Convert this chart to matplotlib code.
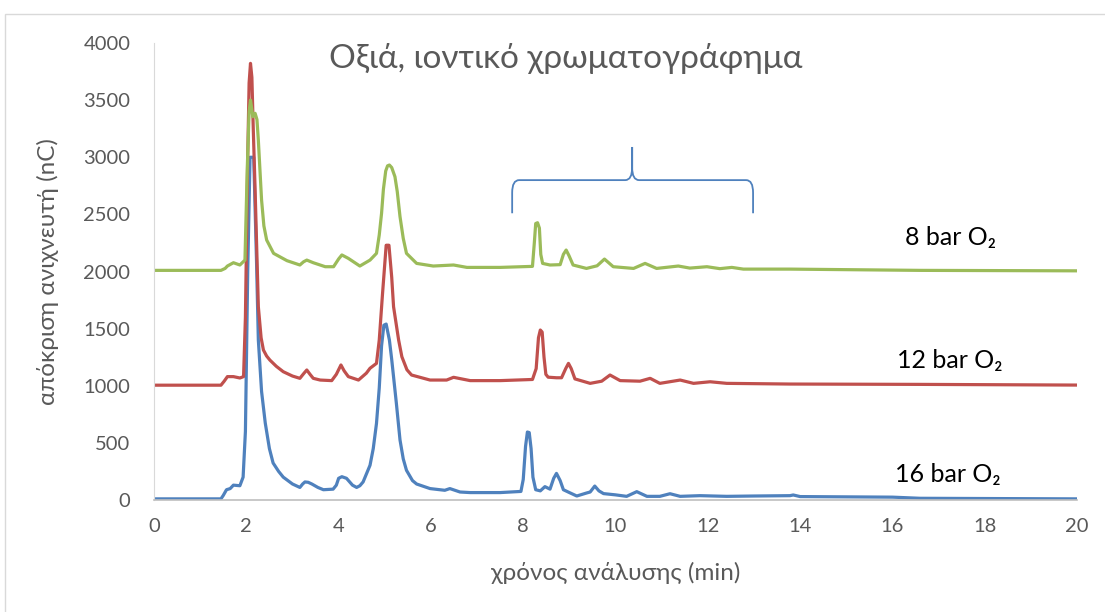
import matplotlib.pyplot as plt
from matplotlib.path import Path
from matplotlib.patches import PathPatch, Rectangle

plt.rcParams["font.family"] = ["Lato", "Noto Sans", "DejaVu Sans"]

GREY = "#595959"
BLUE = "#4F81BD"
RED = "#C0504D"
GREEN = "#9BBB59"

# ion chromatograms, time (min) / detector response (nC)
t_16 = [0, 1.45, 1.5, 1.57, 1.65, 1.72, 1.86, 1.93, 1.98, 2.03, 2.08, 2.16,
        2.22, 2.26, 2.33, 2.41, 2.5, 2.58, 2.7, 2.8, 3.0, 3.16, 3.22, 3.27,
        3.34, 3.42, 3.55, 3.67, 3.88, 3.95, 4.0, 4.07, 4.17, 4.3, 4.39, 4.46,
        4.53, 4.68, 4.75, 4.82, 4.88, 4.93, 4.98, 5.03, 5.1, 5.15, 5.25, 5.33,
        5.4, 5.47, 5.6, 5.69, 5.98, 6.3, 6.41, 6.63, 6.85, 7.5, 7.95, 8.0,
        8.05, 8.09, 8.13, 8.17, 8.21, 8.27, 8.37, 8.47, 8.58, 8.66, 8.72, 8.8,
        8.87, 9.0, 9.16, 9.37, 9.45, 9.55, 9.64, 9.74, 10.0, 10.24, 10.46,
        10.68, 10.96, 11.18, 11.4, 11.83, 12.41, 13.0, 13.78, 13.85, 14.0,
        16.0, 16.6, 20]
y_16 = [10, 10, 40, 90, 100, 130, 125, 200, 600, 2000, 3000, 3000,
        2100, 1400, 950, 674, 450, 324, 250, 200, 140, 110, 140, 158,
        155, 140, 110, 90, 95, 130, 190, 204, 190, 130, 110, 125,
        158, 304, 450, 670, 980, 1350, 1530, 1540, 1400, 1230, 850, 525,
        360, 260, 170, 140, 100, 85, 100, 70, 65, 65, 75, 180,
        470, 595, 590, 450, 200, 90, 80, 117, 95, 190, 233, 170,
        90, 65, 35, 61, 70, 122, 80, 56, 45, 32, 73,
        32, 32, 55, 32, 38, 32, 35, 38, 44, 30,
        25, 15, 10]

t_12 = [0, 1.45, 1.52, 1.59, 1.72, 1.86, 1.94, 1.98, 2.03, 2.06, 2.09, 2.12,
        2.15, 2.19, 2.26, 2.32, 2.37, 2.44, 2.51, 2.65, 2.8, 3.0, 3.16, 3.25,
        3.31, 3.38, 3.45, 3.6, 3.85, 3.95, 4.05, 4.12, 4.21, 4.43, 4.6, 4.68,
        4.82, 4.88, 4.95, 5.03, 5.09, 5.15, 5.19, 5.3, 5.37, 5.48, 5.58, 5.98,
        6.34, 6.49, 6.85, 7.5, 8.2, 8.28, 8.33, 8.37, 8.41, 8.45, 8.49, 8.54,
        8.72, 8.83, 8.92, 8.98, 9.04, 9.12, 9.45, 9.7, 9.88, 10.1, 10.53,
        10.75, 10.96, 11.4, 11.69, 12.05, 12.41, 13.78, 16.6, 20]
y_12 = [1005, 1005, 1040, 1080, 1080, 1068, 1080, 1600, 3000, 3650, 3822, 3700,
        3250, 2713, 1692, 1420, 1313, 1260, 1225, 1170, 1123, 1085, 1065, 1110,
        1138, 1100, 1065, 1050, 1045, 1100, 1182, 1130, 1080, 1050, 1110, 1153,
        1196, 1400, 1800, 2230, 2230, 1950, 1692, 1400, 1254, 1140, 1094, 1050,
        1050, 1074, 1045, 1045, 1055, 1150, 1420, 1488, 1470, 1250, 1100, 1075,
        1070, 1070, 1150, 1196, 1150, 1060, 1021, 1040, 1094, 1045, 1040,
        1065, 1021, 1050, 1021, 1035, 1021, 1015, 1012, 1006]

t_8 = [0, 1.45, 1.54, 1.59, 1.72, 1.86, 1.97, 2.02, 2.06, 2.09, 2.14, 2.19,
       2.23, 2.26, 2.33, 2.38, 2.44, 2.59, 2.88, 3.16, 3.24, 3.31, 3.45, 3.71,
       3.89, 4.0, 4.07, 4.21, 4.46, 4.68, 4.82, 4.88, 4.93, 4.97, 5.02, 5.06,
       5.1, 5.15, 5.22, 5.27, 5.33, 5.4, 5.47, 5.69, 6.05, 6.49, 6.78, 7.5,
       8.2, 8.24, 8.27, 8.31, 8.35, 8.38, 8.42, 8.58, 8.8, 8.87, 8.93, 8.99,
       9.08, 9.37, 9.6, 9.76, 9.95, 10.39, 10.64, 10.89, 11.36, 11.61, 11.98,
       12.26, 12.52, 12.77, 13.78, 16.6, 20]
y_8 = [2010, 2010, 2027, 2048, 2077, 2057, 2100, 2900, 3400, 3501, 3355, 3385,
       3330, 3151, 2626, 2400, 2276, 2159, 2095, 2057, 2085, 2100, 2077, 2042,
       2042, 2110, 2145, 2115, 2048, 2100, 2159, 2320, 2509, 2720, 2880, 2925,
       2932, 2910, 2830, 2700, 2480, 2290, 2159, 2071, 2048, 2057, 2036, 2036,
       2045, 2250, 2420, 2427, 2380, 2150, 2071, 2057, 2060, 2150, 2188, 2140,
       2057, 2027, 2050, 2109, 2042, 2027, 2071, 2027, 2048, 2030, 2042,
       2025, 2036, 2021, 2021, 2010, 2006]

x_ticks = list(range(0, 21, 2))
y_ticks = list(range(0, 4001, 500))

fig = plt.figure(figsize=(11.05, 6.12), dpi=100)
ax = fig.add_axes([0.1394, 0.183, 0.8353, 0.7467])

lw = 2.3
for t, y, c in [(t_16, y_16, BLUE), (t_12, y_12, RED), (t_8, y_8, GREEN)]:
    ax.plot(t, y, color=c, lw=lw, solid_joinstyle="round",
            solid_capstyle="round")

ax.set_xlim(0, 20)
ax.set_ylim(0, 4000)
ax.set_xticks(x_ticks)
ax.set_yticks(y_ticks)
ax.tick_params(length=0, labelsize=14.5, labelcolor=GREY)
ax.tick_params(axis="x", pad=13)
ax.tick_params(axis="y", pad=17)
for s in ("top", "right"):
    ax.spines[s].set_visible(False)
ax.spines["left"].set_color("#D9D9D9")
ax.spines["bottom"].set_color("#BFBFBF")
ax.spines["bottom"].set_linewidth(1.2)

ax.set_xlabel("χρόνος ανάλυσης (min)", fontsize=17.5, color=GREY)
ax.set_ylabel("απόκριση ανιχνευτή (nC)", fontsize=17.5, color=GREY)
ax.xaxis.set_label_coords(0.5, -0.135)
ax.yaxis.set_label_coords(-0.103, 0.5)

fig.text(0.512, 0.905, "Οξιά, ιοντικό χρωματογράφημα", fontsize=24,
         color=GREY, ha="center", va="center")

# series labels
for x, y, s in [(17.25, 2300, "8 bar O₂"), (17.25, 1225, "12 bar O₂"),
                (17.2, 220, "16 bar O₂")]:
    ax.text(x, y, s, fontsize=18, color="black", ha="center", va="center")

# curly bracket over the late-eluting peaks
bx0, bx1, bmid = 7.76, 12.98, 10.36
b_end, b_bar, b_tip = 2510, 2800, 3090
r, dy = 0.15, 110
verts = [
    (bx0, b_end), (bx0, b_bar - dy), (bx0, b_bar), (bx0 + r, b_bar),
    (bmid - r, b_bar), (bmid, b_bar), (bmid, b_bar + dy), (bmid, b_tip),
    (bmid, b_bar + dy), (bmid, b_bar), (bmid + r, b_bar),
    (bx1 - r, b_bar), (bx1, b_bar), (bx1, b_bar - dy), (bx1, b_end),
]
codes = [Path.MOVETO, Path.LINETO, Path.CURVE3, Path.CURVE3,
         Path.LINETO, Path.CURVE3, Path.CURVE3, Path.LINETO,
         Path.LINETO, Path.CURVE3, Path.CURVE3,
         Path.LINETO, Path.CURVE3, Path.CURVE3, Path.LINETO]
ax.add_patch(PathPatch(Path(verts, codes), fill=False, edgecolor=BLUE, lw=1.3))

# chart-area frame
fig.patches.append(Rectangle((5 / 1105, -0.1), 1.2, 1 - 14 / 612 + 0.1,
                             transform=fig.transFigure, fill=False,
                             edgecolor="#D9D9D9", lw=1.0))

fig.savefig("out.png", dpi=100, facecolor="white")
